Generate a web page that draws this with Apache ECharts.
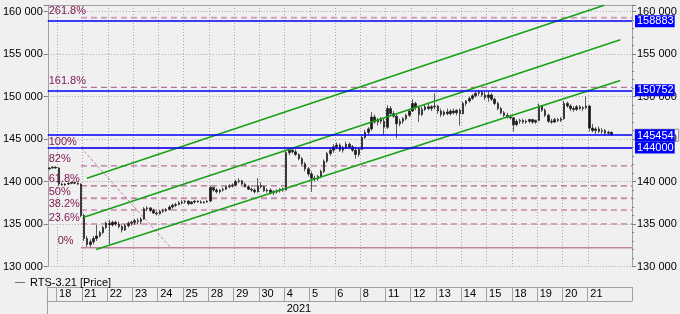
<!DOCTYPE html>
<html><head><meta charset="utf-8">
<script src="https://cdn.jsdelivr.net/npm/echarts@6/dist/echarts.min.js"></script>
<style>html,body{margin:0;padding:0;background:#F0F0F0}#c{width:680px;height:314px}</style>
</head><body><div id="c"></div>
<script>
// ---- data (prices in thousands of points) ----
const dayLabels = ['18','21','22','23','24','25','28','29','30','4','5','6','8','11','12','13','14','15','18','19','20','21'];
const yearText = '2021';
const yearStartDay = 9;           // index in dayLabels where 2021 starts
const seriesName = 'RTS-3.21 [Price]';

const opens = [
 141.5,141.6,141.7,
 141.6,139.7,139.6,139.7,139.8,139.9,139.8,139.7,
 136.0,133.3,132.6,132.9,133.3,133.6,134.0,134.6,
 135.1,134.9,135.2,135.0,134.7,134.3,134.8,135.1,
 135.2,135.4,135.3,135.6,136.8,136.9,136.6,136.3,
 136.2,136.5,136.6,136.7,137.0,137.2,137.3,137.5,
 137.6,137.7,137.4,137.6,137.7,137.6,137.5,137.6,
 137.7,139.3,139.0,138.8,139.0,139.1,139.4,139.5,
 139.6,140.0,140.1,139.7,139.4,139.1,139.0,138.8,
 139.5,139.4,138.9,139.0,138.7,138.8,138.9,139.1,
 139.0,143.4,143.7,143.5,143.2,142.7,142.1,141.5,
 140.9,140.4,140.3,140.6,141.2,142.4,143.3,143.7,
 144.1,144.3,143.7,144.0,144.4,144.1,143.7,143.2,
 143.8,145.2,145.8,146.2,147.6,147.0,147.3,147.1,
 146.4,148.6,148.0,147.7,146.8,147.1,147.4,147.8,
 148.3,149.2,148.7,147.9,148.5,148.8,148.6,148.8,
 148.9,148.3,147.9,148.2,148.0,148.3,148.1,148.4,
 148.0,149.2,149.5,149.8,150.1,150.4,150.5,150.2,
 149.9,150.2,149.7,149.2,148.6,148.1,147.8,147.6,
 147.5,146.7,147.1,147.2,147.0,147.1,147.3,147.0,
 147.2,148.9,148.4,147.8,147.1,147.0,147.3,147.2,
 147.4,149.2,148.9,148.6,148.5,148.8,148.6,148.7,
 148.9,146.3,146.0,146.2,145.9,146.0,145.7,145.8
];
const closes = [
 141.6,141.7,141.6,
 139.7,139.6,139.7,139.8,139.9,139.8,139.7,136.0,
 133.3,132.6,132.9,133.3,133.6,134.0,134.6,135.1,
 134.9,135.2,135.0,134.7,134.3,134.8,135.1,135.2,
 135.4,135.3,135.6,136.8,136.9,136.6,136.3,136.2,
 136.5,136.6,136.7,137.0,137.2,137.3,137.5,137.6,
 137.7,137.4,137.6,137.7,137.6,137.5,137.6,137.7,
 139.3,139.0,138.8,139.0,139.1,139.4,139.5,139.6,
 140.0,140.1,139.7,139.4,139.1,139.0,138.8,139.5,
 139.4,138.9,139.0,138.7,138.8,138.9,139.1,139.0,
 143.4,143.7,143.5,143.2,142.7,142.1,141.5,140.9,
 140.4,140.3,140.6,141.2,142.4,143.3,143.7,144.1,
 144.3,143.7,144.0,144.4,144.1,143.7,143.2,143.8,
 145.2,145.8,146.2,147.6,147.0,147.3,147.1,146.4,
 148.6,148.0,147.7,146.8,147.1,147.4,147.8,148.3,
 149.2,148.7,147.9,148.5,148.8,148.6,148.8,148.9,
 148.3,147.9,148.2,148.0,148.3,148.1,148.4,148.0,
 149.2,149.5,149.8,150.1,150.4,150.5,150.2,149.9,
 150.2,149.7,149.2,148.6,148.1,147.8,147.6,147.5,
 146.7,147.1,147.2,147.0,147.1,147.3,147.0,147.2,
 148.9,148.4,147.8,147.1,147.0,147.3,147.2,147.4,
 149.2,148.9,148.6,148.5,148.8,148.6,148.7,148.9,
 146.3,146.0,146.2,145.9,146.0,145.7,145.8,145.5
];
const highs = [
 141.7,141.8,141.8,
 141.7,139.9,139.8,139.9,140.0,140.0,139.9,139.8,
 136.2,133.6,133.2,133.6,134.9,134.2,134.8,135.3,
 135.5,135.4,135.4,135.3,134.9,135.0,135.3,135.4,
 135.6,135.7,135.8,137.0,137.1,137.0,136.8,136.5,
 136.7,136.8,136.9,137.2,137.4,137.5,137.7,137.8,
 137.8,137.8,137.7,137.8,137.8,137.8,137.7,137.8,
 139.5,139.4,139.2,139.1,139.3,139.5,139.7,139.8,
 140.2,140.4,140.2,139.9,139.6,139.3,139.2,140.4,
 139.9,139.5,139.2,139.2,139.0,139.1,139.2,139.3,
 143.7,143.9,143.9,143.8,143.3,142.9,142.3,141.7,
 141.2,140.7,140.8,141.4,142.6,143.5,144.0,144.4,
 144.6,144.5,144.2,144.7,144.6,144.3,144.1,144.0,
 145.4,146.1,146.4,148.2,147.9,147.5,147.6,147.4,
 149.0,148.9,148.3,147.9,147.4,147.6,148.0,148.5,
 149.7,149.4,148.9,148.8,149.1,149.2,149.0,150.4,
 149.0,148.6,148.4,148.6,148.5,148.6,148.5,148.6,
 149.4,149.6,150.0,150.3,150.6,150.8,150.7,150.6,
 150.6,150.4,149.9,149.4,148.8,148.3,148.1,147.9,
 147.6,147.3,147.4,147.4,147.3,147.4,147.4,147.3,
 149.2,149.0,148.6,148.0,147.4,147.5,147.5,147.6,
 149.5,149.4,149.1,148.9,149.0,149.0,148.9,150.0,
 149.0,146.8,146.4,146.5,146.3,146.2,146.0,145.9
];
const lows = [
 141.4,141.5,141.5,
 139.5,139.5,139.5,139.6,139.7,139.7,139.6,135.8,
 133.0,132.3,132.3,132.6,133.0,133.4,133.8,134.4,
 132.6,134.7,134.8,134.5,134.0,134.2,134.6,134.8,
 134.9,135.0,135.0,135.5,136.5,136.4,136.2,136.0,
 136.1,136.3,136.4,136.6,136.8,137.0,137.2,137.3,
 137.4,137.2,137.3,137.4,137.5,137.4,137.4,137.5,
 137.6,138.8,138.6,138.6,138.8,139.0,139.2,139.3,
 139.5,139.8,139.6,139.3,139.0,138.8,138.6,138.7,
 139.2,138.8,138.7,138.5,138.4,138.6,138.7,138.8,
 139.0,143.1,143.3,143.0,142.5,141.9,141.2,140.6,
 138.8,140.0,140.1,140.4,141.0,142.2,143.0,143.4,
 143.8,143.5,143.4,143.8,143.9,143.5,142.7,142.9,
 143.7,145.0,145.5,146.0,146.8,146.6,146.8,145.5,
 146.2,147.8,147.5,145.1,146.5,146.8,147.2,147.6,
 148.2,148.4,147.0,147.7,148.3,148.4,148.3,148.5,
 148.0,147.6,147.7,147.8,147.8,147.9,147.8,146.6,
 147.9,148.9,149.3,149.6,149.9,150.1,150.0,149.6,
 149.4,149.5,149.0,148.4,147.9,147.6,147.4,147.3,
 145.9,146.5,146.8,146.8,146.8,146.9,146.8,146.8,
 147.1,148.2,147.6,146.9,146.8,146.9,147.0,147.0,
 147.3,148.7,148.3,148.2,148.3,148.4,148.3,148.5,
 145.9,145.8,145.6,145.7,145.6,145.4,145.5,145.4
];

// horizontal price levels (blue) and current price
const priceLevels = [158883, 150752, 145454, 144000];
const currentPrice = 145454;

// Fibonacci levels (thousands)
const fibLabels = ['261.8%','161.8%','100%','82%','61.8%','50%','38.2%','23.6%','0%'];
const fibValues = [159.3, 151.1, 143.95, 141.85, 139.5, 138.05, 136.65, 135.0, 132.2];
// anchor of the fib tool: [bar position, price]
const fibAnchor = [[10.5, 144.0], [39.0, 132.2]];

// trend channel lines: [bar position, price]
const channelUpper  = [[12.4, 140.4], [176.2, 160.76]];
const channelMiddle = [[11.4, 135.8], [181.3, 156.7]];
const channelLower  = [[15.3, 132.0], [181.3, 151.9]];

// ---- layout / styling ----
const K = 1000;
const LEAD = 3, PER_DAY = 8, TAIL = 6;
const N = LEAD + dayLabels.length * PER_DAY + TAIL;
const cats = Array.from({length: N}, (_, i) => 'b' + i);
const isDayStart = i => i >= LEAD && (i - LEAD) % PER_DAY === 0 && (i - LEAD) / PER_DAY < dayLabels.length;
const FONT = '"Liberation Sans", Arial, sans-serif';
const fmtNum = v => String(v).replace(/\B(?=(\d{3})+(?!\d))/g, ' ');
const yMin = 130000, yMax = 160790;

const bars = opens.map((o, i) => [o * K, closes[i] * K, lows[i] * K, highs[i] * K]);

const fibStyles = {
  '261.8%': {color: '#D3A1BA', width: 2, type: [6, 4]},
  '161.8%': {color: '#B8729A', width: 1.2, type: [6, 4]},
  '100%':   {color: '#C0506E', width: 1, type: 'solid'},
  '82%':    {color: '#B8729A', width: 1.2, type: [6, 4]},
  '61.8%':  {color: '#B0648E', width: 1.2, type: [6, 4]},
  '50%':    {color: '#C88AAA', width: 2, type: [6, 4]},
  '38.2%':  {color: '#D3A1BA', width: 2, type: [6, 4]},
  '23.6%':  {color: '#D3A1BA', width: 2, type: [6, 4]},
  '0%':     {color: '#A8507E', width: 1, type: 'solid'}
};
const fibLabelIndent = {'0%': 9};
const fibStartX = fibAnchor[0][0];

const series = [];

// fib level lines
fibLabels.forEach((lab, i) => {
  series.push({
    type: 'line', xAxisIndex: 1, yAxisIndex: 0, silent: true, z: 2,
    showSymbol: false, symbol: 'none',
    lineStyle: fibStyles[lab],
    data: [[fibStartX, fibValues[i] * K], [N, fibValues[i] * K]]
  });
});
// fib labels
series.push({
  type: 'scatter', xAxisIndex: 1, yAxisIndex: 0, silent: true, z: 6,
  symbolSize: 0, itemStyle: {opacity: 1},
  data: fibLabels.map((lab, i) => ({
    value: [0.3, fibValues[i] * K],
    label: {
      show: true, position: [0, -12], formatter: lab,
      color: '#7E1450', fontSize: 11, fontFamily: FONT, opacity: 1,
      padding: [0, 0, 0, fibLabelIndent[lab] || 0]
    }
  }))
});
// fib anchor diagonal
series.push({
  type: 'line', xAxisIndex: 1, yAxisIndex: 0, silent: true, z: 2,
  showSymbol: false, symbol: 'none',
  lineStyle: {color: '#C27AA0', width: 1, type: [3, 2]},
  data: fibAnchor.map(p => [p[0], p[1] * K])
});
// candles
series.push({
  name: seriesName, type: 'candlestick', xAxisIndex: 0, yAxisIndex: 0, z: 3,
  barWidth: 2,
  itemStyle: {color: '#1a1a1a', color0: '#1a1a1a', borderColor: '#1a1a1a', borderColor0: '#1a1a1a', borderWidth: 0.7},
  data: bars,
  markLine: {
    silent: true, symbol: ['none', 'none'], z: 7,
    lineStyle: {color: '#0000FF', width: 1.6, type: 'solid'},
    label: {
      show: true, position: 'end', distance: 3,
      fontFamily: FONT, fontSize: 11
    },
    data: priceLevels.map(v => ({
      yAxis: v,
      label: v === currentPrice ? {
        formatter: '{a|' + v + '}', borderColor: '#8C8C8C', borderWidth: 1,
        padding: [0, 4, 0, 0],
        rich: {a: {backgroundColor: '#0000FF', color: '#fff', fontSize: 11, fontFamily: FONT, padding: [1, 1, 0, 2]}}
      } : {
        formatter: String(v), backgroundColor: '#0000FF', color: '#fff', padding: [1, 1, 0, 2]
      }
    }))
  }
});
// channel
[channelUpper, channelMiddle, channelLower].forEach(ch => {
  series.push({
    type: 'line', xAxisIndex: 1, yAxisIndex: 0, silent: true, z: 4,
    showSymbol: false, symbol: 'none',
    lineStyle: {color: '#16A016', width: 1.5},
    data: ch.map(p => [p[0], p[1] * K])
  });
});

const option = {
  animation: false,
  backgroundColor: '#F0F0F0',
  textStyle: {fontFamily: FONT},
  legend: {
    left: 10, top: 272, itemWidth: 10, itemHeight: 1, icon: 'rect',
    selectedMode: false,
    textStyle: {fontSize: 11, color: '#000', fontFamily: FONT},
    data: [{name: seriesName, itemStyle: {color: '#707070', borderColor: '#707070', borderWidth: 0}}]
  },
  grid: [
    {left: 47, right: 48, top: 5, bottom: 47.5},
    {left: 47, right: 48, top: 287, height: 14},
    {left: 47, right: 48, top: 301, height: 13}
  ],
  xAxis: [
    {type: 'category', gridIndex: 0, data: cats, boundaryGap: true,
     axisLine: {show: false}, axisTick: {show: false}, axisLabel: {show: false},
     splitLine: {show: true, interval: (i) => isDayStart(i), lineStyle: {color: '#A8A8A8', type: [1, 2]}}},
    {type: 'value', gridIndex: 0, min: 0, max: N, position: 'top',
     axisLine: {show: true, lineStyle: {color: '#A0A0A0'}}, axisTick: {show: false},
     axisLabel: {show: false}, splitLine: {show: false}},
    {type: 'category', gridIndex: 1, data: cats, boundaryGap: true, position: 'bottom',
     axisLine: {show: true, lineStyle: {color: '#A0A0A0'}}, axisTick: {show: false},
     axisLabel: {show: true, inside: true, margin: 2, interval: (i) => isDayStart(i),
       formatter: (v, i) => dayLabels[(i - LEAD) / PER_DAY] || '',
       align: 'left', padding: [0, 0, 0, 1], fontSize: 11, color: '#000', fontFamily: FONT},
     splitLine: {show: true, interval: (i) => isDayStart(i), lineStyle: {color: '#A0A0A0', type: 'solid'}}},
    {type: 'category', gridIndex: 2, data: cats, boundaryGap: true, position: 'top',
     axisLine: {show: false}, axisTick: {show: false},
     axisLabel: {show: true, inside: true, margin: 2,
       interval: (i) => i === LEAD + yearStartDay * PER_DAY,
       formatter: () => yearText,
       align: 'left', padding: [0, 0, 0, 1], fontSize: 11, color: '#000', fontFamily: FONT},
     splitLine: {show: false}}
  ],
  yAxis: [
    {type: 'value', gridIndex: 0, position: 'left', min: yMin, max: yMax, interval: 5000,
     axisLine: {show: true, lineStyle: {color: '#A0A0A0'}},
     axisTick: {show: true, length: 4, lineStyle: {color: '#808080'}},
     axisLabel: {margin: 5, fontSize: 11, color: '#000', fontFamily: FONT,
       formatter: v => (v % 5000 === 0 ? fmtNum(v) : '')},
     splitLine: {show: true, lineStyle: {color: '#A8A8A8', type: [1, 2]}}},
    {type: 'value', gridIndex: 0, position: 'right', min: yMin, max: yMax, interval: 5000,
     axisLine: {show: true, lineStyle: {color: '#A0A0A0'}},
     axisTick: {show: true, length: 4, lineStyle: {color: '#808080'}},
     minorTick: {show: true, splitNumber: 5, length: 2, lineStyle: {color: '#808080'}},
     axisLabel: {margin: 5, fontSize: 11, color: '#000', fontFamily: FONT,
       formatter: v => (v % 5000 === 0 ? fmtNum(v) : '')},
     splitLine: {show: false}},
    {type: 'value', gridIndex: 1, min: 0, max: 1, interval: 1,
     axisLine: {show: true, lineStyle: {color: '#A0A0A0'}}, axisTick: {show: false},
     axisLabel: {show: false},
     splitLine: {show: true, lineStyle: {color: '#A0A0A0', type: 'solid'}}},
    {type: 'value', gridIndex: 2, min: 0, max: 1, interval: 1,
     axisLine: {show: true, lineStyle: {color: '#A0A0A0'}}, axisTick: {show: false},
     axisLabel: {show: false}, splitLine: {show: false}}
  ],
  series: series
};

const chart = echarts.init(document.getElementById('c'), null, {renderer: 'canvas'});
chart.setOption(option);
</script>
</body></html>
